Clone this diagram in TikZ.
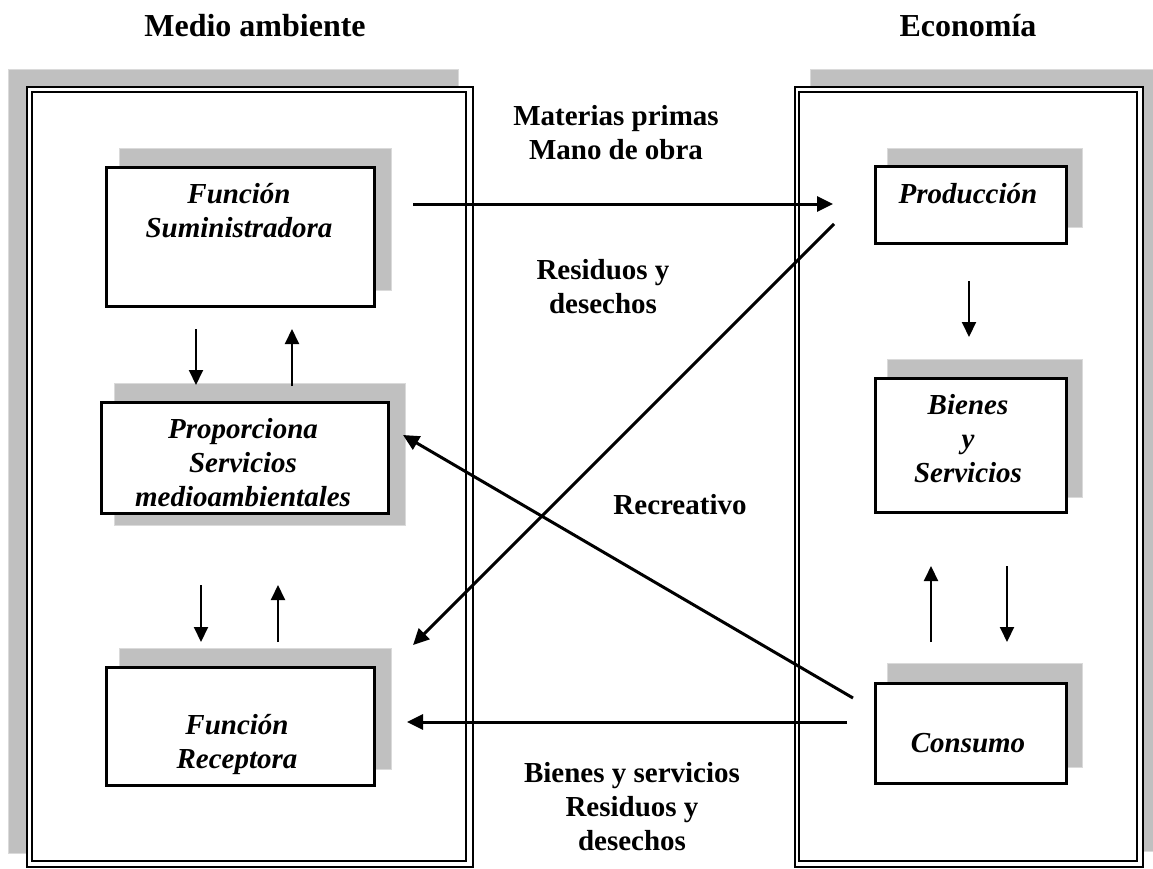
\documentclass[tikz,border=0pt]{standalone}
\usepackage{fontspec}
\setmainfont{Liberation Serif}
\usetikzlibrary{arrows.meta}
\definecolor{shade}{RGB}{192,192,192}
\definecolor{shadeedge}{RGB}{218,218,218}
\begin{document}
\begin{tikzpicture}[x=1pt,y=-1pt,
  shadowbox/.style={fill=shade, draw=shadeedge, line width=0.8pt},
  mainbox/.style={draw=black, fill=white, line width=3pt, inner sep=0pt, anchor=north west},
  outerline/.style={draw=black, fill=white, line width=2pt},
  innerline/.style={draw=black, line width=1.6pt},
  boxtext/.style={font=\fontsize{29}{34}\selectfont\bfseries\itshape, align=center, anchor=base, inner sep=0pt},
  lbl/.style={font=\fontsize{29}{34}\selectfont\bfseries, align=center, anchor=base, inner sep=0pt},
  hdr/.style={font=\fontsize{32}{38}\selectfont\bfseries, anchor=base, inner sep=0pt},
  bigarrow/.style={line width=3pt, -{Triangle[length=16pt,width=15pt]}},
  smallarrow/.style={line width=2pt, -{Triangle[length=15pt,width=14pt]}},
]
\useasboundingbox (0,0) rectangle (1153,869);

% headers
\node[hdr] (hL) at (255,37) {Medio ambiente};
\node[hdr] (hR) at (968,37) {Economía};

% containers
\draw[shadowbox] (8,69) rectangle (458,853);
\draw[shadowbox] (810,69) rectangle (1160,851);
\node[outerline, minimum width=446pt, minimum height=780pt, anchor=north west, inner sep=0pt] (envL) at (26,86) {};
\draw[innerline] (32,92) rectangle (466,861);
\node[outerline, minimum width=348pt, minimum height=780pt, anchor=north west, inner sep=0pt] (envR) at (794,86) {};
\draw[innerline] (799,92) rectangle (1137,861);

% box shadows
\draw[shadowbox] (119,148) rectangle (391,290);
\draw[shadowbox] (114,383) rectangle (405,525);
\draw[shadowbox] (119,648) rectangle (391,769);
\draw[shadowbox] (887,148) rectangle (1082,227);
\draw[shadowbox] (887,359) rectangle (1082,497);
\draw[shadowbox] (887,663) rectangle (1082,767);

% boxes
\node[mainbox, minimum width=268pt, minimum height=138pt] (sum) at (104.5,166.5) {};
\node[mainbox, minimum width=287pt, minimum height=111pt] (prop) at (99.5,400.5) {};
\node[mainbox, minimum width=268pt, minimum height=118pt] (rec) at (104.5,665.5) {};
\node[mainbox, minimum width=191pt, minimum height=76pt] (prod) at (873.5,165.5) {};
\node[mainbox, minimum width=191pt, minimum height=134pt] (bien) at (873.5,376.5) {};
\node[mainbox, minimum width=191pt, minimum height=100pt] (cons) at (873.5,681.5) {};

% box texts (anchor base = baseline of last line)
\node[boxtext] (tsum) at (239,237) {Función\\Suministradora};
\node[boxtext] (tprop) at (243,506) {Proporciona\\Servicios\\medioambientales};
\node[boxtext] (trec) at (237,768) {Función\\Receptora};
\node[boxtext] (tprod) at (968,204) {Producción};
\node[boxtext] (tbien) at (968,482) {Bienes\\y\\Servicios};
\node[boxtext] (tcons) at (968,752) {Consumo};

% labels
\node[lbl] (lmat) at (616,160) {Materias primas\\Mano de obra};
\node[lbl] (lres) at (603,313) {Residuos y\\desechos};
\node[lbl] (lrecr) at (680,514) {Recreativo};
\node[lbl] (lbien) at (632,850) {Bienes y servicios\\Residuos y\\desechos};

% arrow end points
\coordinate (m1) at (413,204);  \coordinate (m2) at (833,204);
\coordinate (r1) at (834,224);  \coordinate (r2) at (413,645);
\coordinate (c1) at (853,698);  \coordinate (c2) at (403,435);
\coordinate (b1) at (847,722);  \coordinate (b2) at (407,722);

\draw[bigarrow] (m1) -- (m2);
\draw[bigarrow] (r1) -- (r2);
\draw[bigarrow] (c1) -- (c2);
\draw[bigarrow] (b1) -- (b2);

% small vertical arrows
\coordinate (s1a) at (196,329); \coordinate (s1b) at (196,385);
\coordinate (s2a) at (292,386); \coordinate (s2b) at (292,329);
\coordinate (s3a) at (201,585); \coordinate (s3b) at (201,642);
\coordinate (s4a) at (278,642); \coordinate (s4b) at (278,585);
\coordinate (s5a) at (969,281); \coordinate (s5b) at (969,337);
\coordinate (s6a) at (931,642); \coordinate (s6b) at (931,566);
\coordinate (s7a) at (1007,566); \coordinate (s7b) at (1007,642);
\draw[smallarrow] (s1a) -- (s1b);
\draw[smallarrow] (s2a) -- (s2b);
\draw[smallarrow] (s3a) -- (s3b);
\draw[smallarrow] (s4a) -- (s4b);
\draw[smallarrow] (s5a) -- (s5b);
\draw[smallarrow] (s6a) -- (s6b);
\draw[smallarrow] (s7a) -- (s7b);
\end{tikzpicture}
\end{document}
